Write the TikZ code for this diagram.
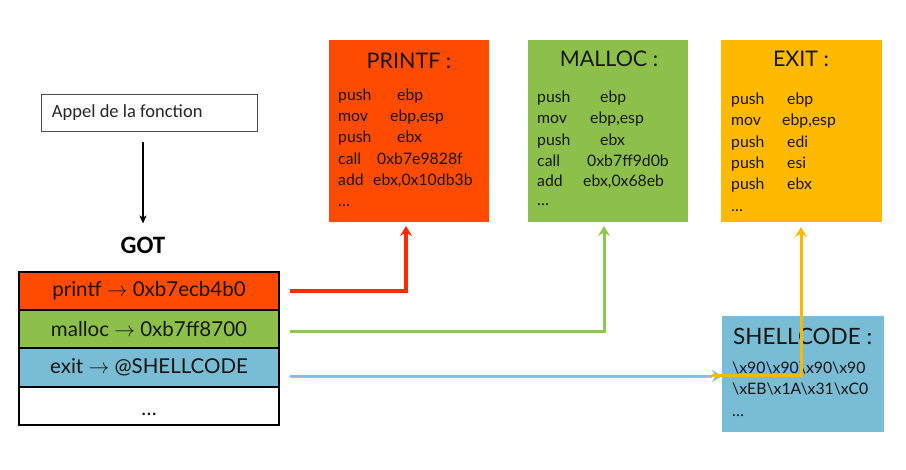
\documentclass[tikz,border=0pt]{standalone}
\usepackage{fontspec}
\setmainfont{Lato}
\newfontfamily\calfont{Carlito}
\usetikzlibrary{arrows.meta}
\definecolor{cRed}{HTML}{FF4B00}
\definecolor{cGreen}{HTML}{8CC04A}
\definecolor{cYellow}{HTML}{FFBA00}
\definecolor{cBlue}{HTML}{79BCD5}
\definecolor{aRed}{HTML}{FF2A00}
\definecolor{aGreen}{HTML}{8EC653}
\definecolor{aOrange}{HTML}{FFB900}
\definecolor{aBlue}{HTML}{80C0D8}
\definecolor{txt}{HTML}{1A1610}
\begin{document}
\begin{tikzpicture}[x=1pt,y=-1pt,
  fnbox/.style={minimum width=160pt,minimum height=182pt,inner sep=0pt,outer sep=0pt},
  ttl/.style={font=\fontsize{21.5}{23}\selectfont,text=txt,anchor=base,inner sep=0pt},
  codeln/.style={font=\fontsize{15.8}{17}\selectfont,text=txt,anchor=base west,inner sep=0pt},
  gotrow/.style={draw=black,line width=2pt,minimum width=260pt,minimum height=38.25pt,inner sep=0pt,outer sep=0pt,font=\fontsize{20.5}{22}\selectfont,text=txt},
  tipR/.style={-{Stealth[length=10pt,width=12pt,inset=3.5pt]}},
]
\useasboundingbox (0,0) rectangle (906,470);
\fill[white] (0,0) rectangle (906,470);

% function boxes
\node[fnbox,fill=cRed] (printf) at (408.5,131) {};
\node[fnbox,fill=cGreen] (malloc) at (608,131) {};
\node[fnbox,fill=cYellow,minimum width=161pt] (exit) at (801.5,131) {};
\node[fnbox,fill=cBlue,minimum width=162pt,minimum height=116pt] (shell) at (803,374.5) {};

% titles
\node[ttl] (tp) at (409,69) {PRINTF :};
\node[ttl] (tm) at (609,67) {MALLOC :};
\node[ttl] (te) at (801,67) {EXIT :};
\node[ttl,anchor=base west,font=\fontsize{22.5}{24}\selectfont] (ts) at (733,345) {SHELLCODE :};

% printf code
\node[codeln] (p1) at (338,101) {\makebox[59pt][l]{push}ebp};
\node[codeln] (p2) at (338,122) {\makebox[52pt][l]{mov}ebp,esp};
\node[codeln] (p3) at (338,143) {\makebox[59pt][l]{push}ebx};
\node[codeln] (p4) at (338,165) {\makebox[39pt][l]{call}0xb7e9828f};
\node[codeln] (p5) at (338,186) {\makebox[35pt][l]{add}ebx,0x10db3b};
\node[codeln] (p6) at (338,207) {\dots};

% malloc code
\node[codeln] (m1) at (537,103) {\makebox[63pt][l]{push}ebp};
\node[codeln] (m2) at (537,124) {\makebox[53pt][l]{mov}ebp,esp};
\node[codeln] (m3) at (537,146) {\makebox[63pt][l]{push}ebx};
\node[codeln] (m4) at (537,167) {\makebox[50pt][l]{call}0xb7ff9d0b};
\node[codeln] (m5) at (537,187) {\makebox[46pt][l]{add}ebx,0x68eb};
\node[codeln] (m6) at (537,206) {\dots};

% exit code
\node[codeln] (e1) at (731,105) {\makebox[56pt][l]{push}ebp};
\node[codeln] (e2) at (731,126) {\makebox[51pt][l]{mov}ebp,esp};
\node[codeln] (e3) at (731,148) {\makebox[56pt][l]{push}edi};
\node[codeln] (e4) at (731,169) {\makebox[56pt][l]{push}esi};
\node[codeln] (e5) at (731,190) {\makebox[56pt][l]{push}ebx};
\node[codeln] (e6) at (731,212) {\dots};

% shellcode
\node[codeln] (s1) at (732,374) {\textbackslash x90\textbackslash x90\textbackslash x90\textbackslash x90};
\node[codeln] (s2) at (732,395) {\textbackslash xEB\textbackslash x1A\textbackslash x31\textbackslash xC0};
\node[codeln] (s3) at (732,417) {\dots};

% call box and GOT
\node[draw=black!70,line width=0.8pt,minimum width=216pt,minimum height=37pt,inner sep=0pt,font=\calfont\fontsize{18.5}{20}\selectfont,text=black!85] (appel) at (149,112.5) {\makebox[194pt][l]{\raisebox{-3pt}{Appel de la fonction}}};
\node[font=\calfont\bfseries\fontsize{25}{27}\selectfont,inner sep=0pt] (got) at (143,245) {GOT};
\draw[line width=1.2pt,-{Stealth[length=8pt,width=7pt,inset=2pt]}] ([yshift=-11pt]appel.south -| got.north) -- ([yshift=13pt]got.north);

% GOT table
\node[gotrow,fill=cRed] (rp) at (149,291.125) {printf $\rightarrow$ 0xb7ecb4b0};
\node[gotrow,fill=cGreen] (rm) at (149,329.375) {malloc $\rightarrow$ 0xb7ff8700};
\node[gotrow,fill=cBlue] (re) at (149,367.625) {exit $\rightarrow$ @SHELLCODE};
\node[gotrow,fill=white] (rd) at (149,405.875) {};
\node[font=\fontsize{20.5}{22}\selectfont,text=txt,anchor=base,inner sep=0pt] (rdt) at (149,416) {\dots};

% connectors
\coordinate (sp) at (290,291);
\coordinate (sm) at (290,332);
\coordinate (se) at (290,376);
\coordinate (oe) at (712,376);
\draw[aRed,line width=4pt,tipR] (sp) -| ([xshift=-2.5pt]printf.south |- 0,226);
\draw[aGreen,line width=3pt,tipR] (sm) -| ([xshift=-4pt]malloc.south |- 0,226);
\draw[aOrange,line width=1.2pt] (290,377.5) -- (712,377.5);
\draw[aBlue,line width=2.6pt,tipR] (se) -- (se -| shell.west);
\draw[aOrange,line width=3pt,tipR] (oe) -| ([xshift=-0.5pt]exit.south |- 0,227);
\end{tikzpicture}
\end{document}
